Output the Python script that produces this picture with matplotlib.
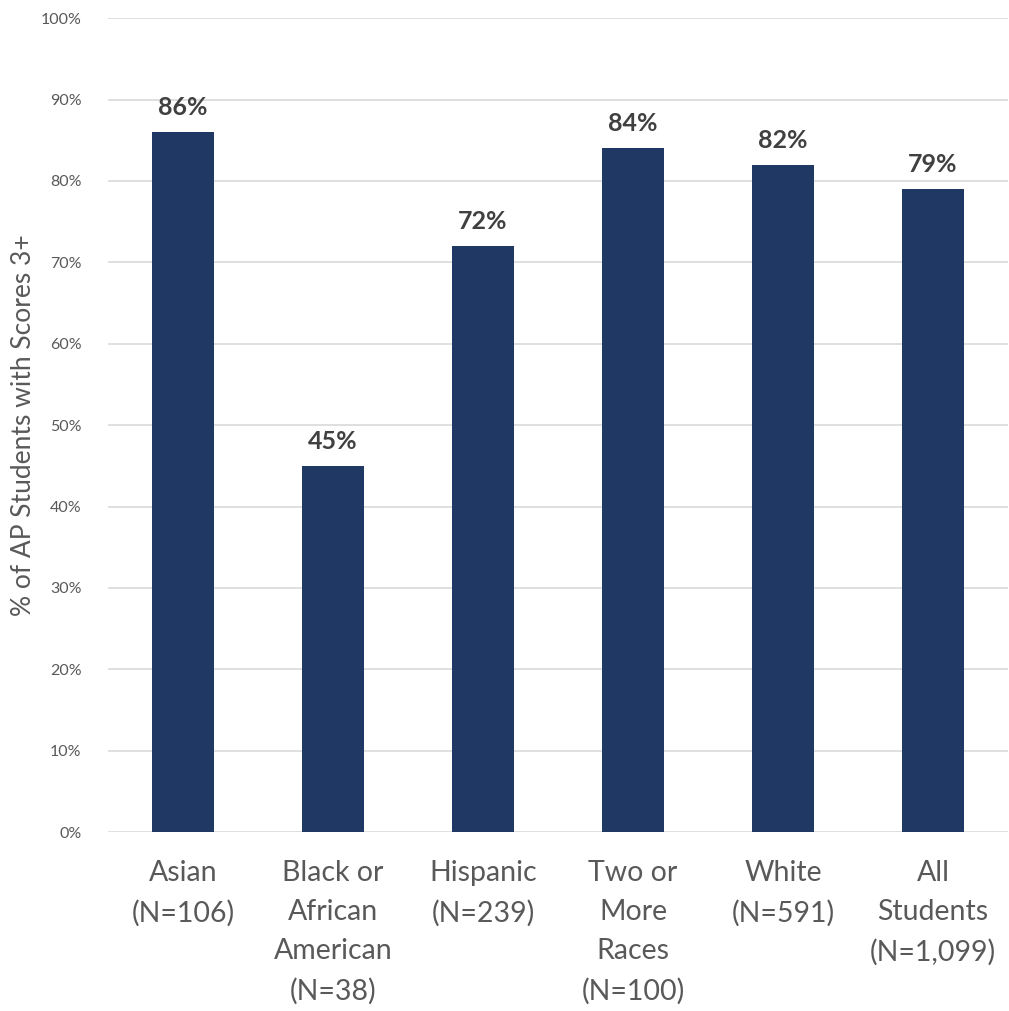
import matplotlib
matplotlib.use('Agg')
import matplotlib.pyplot as plt
from matplotlib.ticker import FuncFormatter

plt.rcParams['font.family'] = ['Lato', 'DejaVu Sans']

# datos
categorias = ['Asian\n(N=106)', 'Black or\nAfrican\nAmerican\n(N=38)', 'Hispanic\n(N=239)',
              'Two or\nMore\nRaces\n(N=100)', 'White\n(N=591)', 'All\nStudents\n(N=1,099)']
porcentajes = [86, 45, 72, 84, 82, 79]
ticks_y = [0, 10, 20, 30, 40, 50, 60, 70, 80, 90, 100]

azul = '#203864'
gris = '#595959'

fig = plt.figure(figsize=(10.09, 10.11), dpi=100)
ax = fig.add_axes([0.107, 0.177, 0.892, 0.805])

x = range(len(categorias))
barras = ax.bar(x, porcentajes, width=0.413, color=azul, zorder=3)

for b, v in zip(barras, porcentajes):
    ax.text(b.get_x() + b.get_width() / 2, v + 1.6, f'{v}%', ha='center', va='bottom',
            fontsize=18, fontweight='bold', color='#404040')

ax.set_xlim(-0.5, len(categorias) - 0.5)
ax.set_ylim(0, 100)
ax.set_yticks(ticks_y)
ax.yaxis.set_major_formatter(FuncFormatter(lambda v, p: f'{int(v)}%'))
ax.grid(axis='y', color='#d9d9d9', linewidth=1.2, zorder=0)

for s in ax.spines.values():
    s.set_visible(False)
ax.tick_params(axis='y', length=0, pad=19, labelsize=11.5, labelcolor=gris)
ax.tick_params(axis='x', length=0, pad=20, labelsize=20.5, labelcolor=gris)
ax.set_xticks(list(x))
ax.set_xticklabels(categorias, linespacing=1.62)

ax.set_ylabel('% of AP Students with Scores 3+', fontsize=19, color=gris)
ax.yaxis.set_label_coords(-0.08, 0.5)

fig.savefig('out.png', dpi=100)
